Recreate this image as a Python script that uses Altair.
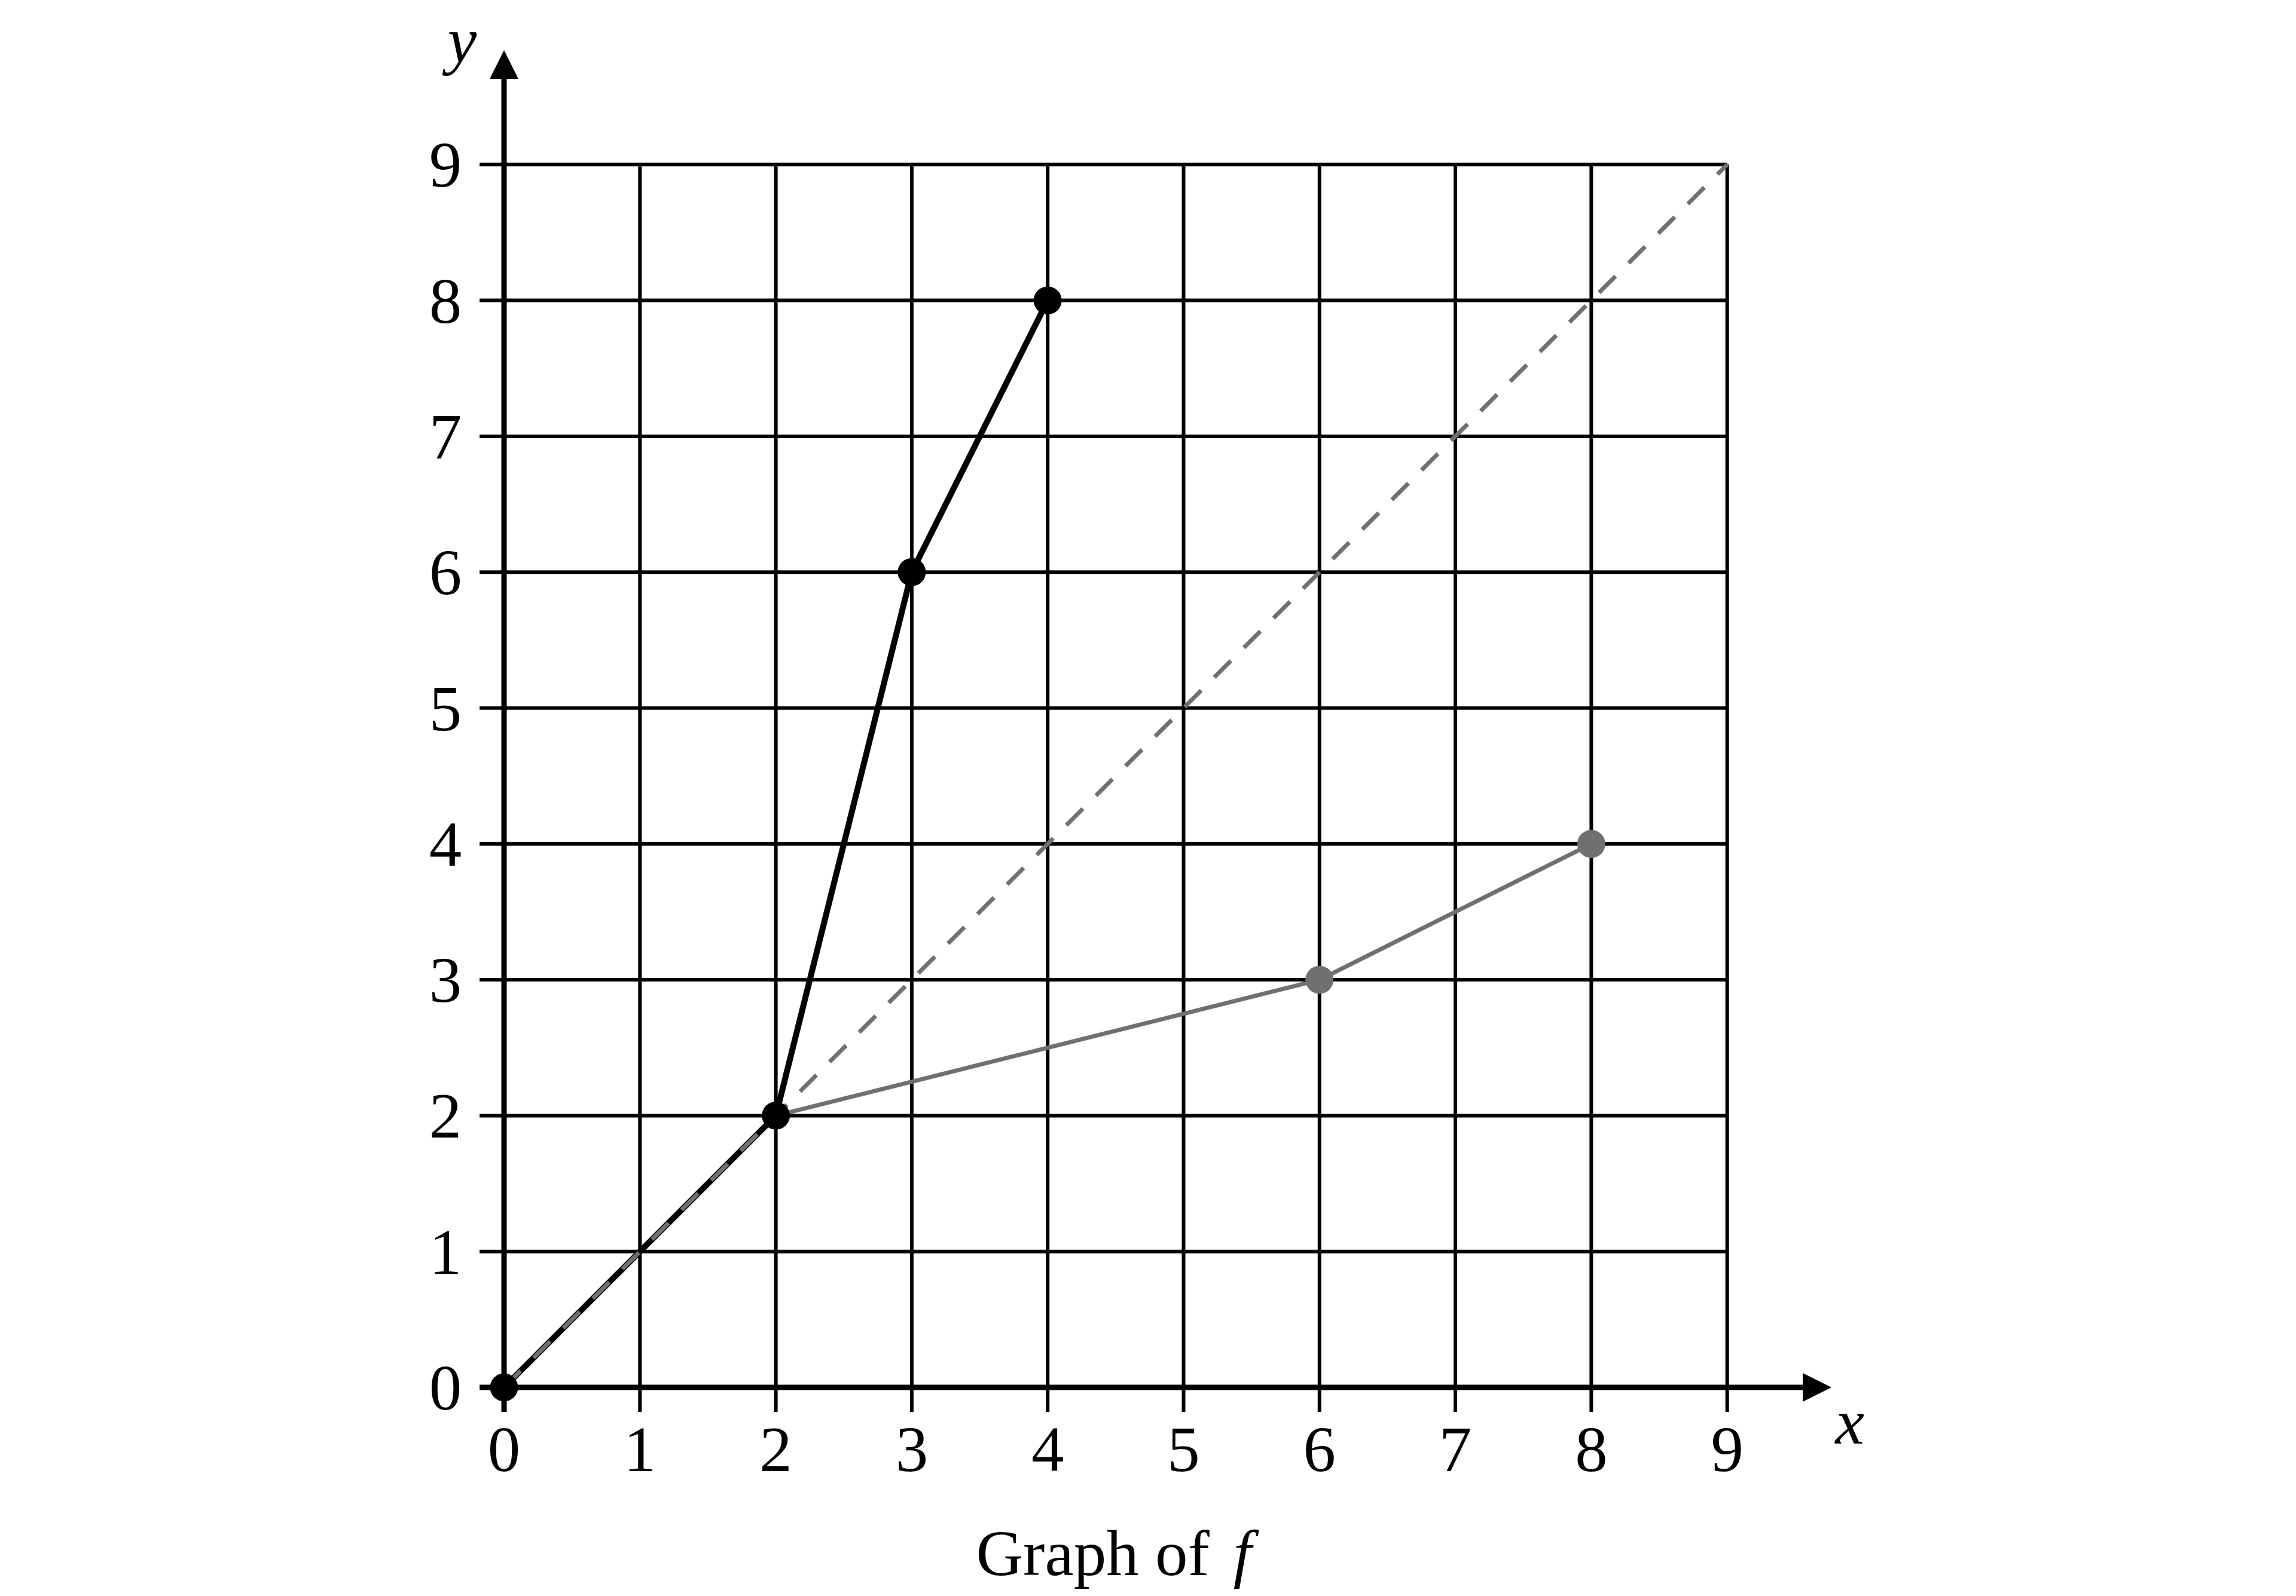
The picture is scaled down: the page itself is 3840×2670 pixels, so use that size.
import altair as alt
import pandas as pd

# ---- data ----
grid_vals = [0, 1, 2, 3, 4, 5, 6, 7, 8, 9]
tick_labels = ["0", "1", "2", "3", "4", "5", "6", "7", "8", "9"]

f_x = [0, 2, 3, 4]
f_y = [0, 2, 6, 8]

g_x = [2, 6, 8]
g_y = [2, 3, 4]

diag_x = [0, 9]
diag_y = [0, 9]

f_pts_x = [0, 2, 3, 4]
f_pts_y = [0, 2, 6, 8]
g_pts_x = [6, 8]
g_pts_y = [3, 4]

title_main = "Graph of"
title_fn = "f"
x_name = "x"
y_name = "y"

# ---- layout (pixels / data units) ----
UNIT = 227.3
W, H = 3824, 2654
ORIGIN_PX = 843 - 8
ORIGIN_PY = 2321 - 8
xs = alt.Scale(domain=[-ORIGIN_PX / UNIT, (W - ORIGIN_PX) / UNIT], nice=False, zero=False)
ys = alt.Scale(domain=[-(H - ORIGIN_PY) / UNIT, ORIGIN_PY / UNIT], nice=False, zero=False)

def X(f="x"):
    return alt.X(f"{f}:Q", scale=xs, axis=None)

def Y(f="y"):
    return alt.Y(f"{f}:Q", scale=ys, axis=None)

FONT = "Liberation Serif"
FS = 109
GRAY = "#707070"
EXT = 0.18      # how far grid lines run past the axes
X_END = 9.556   # x axis line end (arrow base)
Y_END = 9.63    # y axis line end (arrow base)
lo, hi = grid_vals[0], grid_vals[-1]

vgrid = pd.DataFrame({"x": grid_vals[1:], "y": lo - EXT, "y2": hi})
hgrid = pd.DataFrame({"y": grid_vals[1:], "x": lo - EXT, "x2": hi})

vg = alt.Chart(vgrid).mark_rule(color="black", strokeWidth=6).encode(
    x=X(), y=Y(), y2="y2:Q")
hg = alt.Chart(hgrid).mark_rule(color="black", strokeWidth=6).encode(
    y=Y(), x=X(), x2="x2:Q")

xaxis = alt.Chart(pd.DataFrame({"x": [lo - EXT], "x2": [X_END], "y": [lo]})).mark_rule(
    color="black", strokeWidth=9).encode(x=X(), x2="x2:Q", y=Y())
yaxis = alt.Chart(pd.DataFrame({"y": [lo - EXT], "y2": [Y_END], "x": [lo]})).mark_rule(
    color="black", strokeWidth=9).encode(y=Y(), y2="y2:Q", x=X())

ARROW = 48 * 48
arrow_r = alt.Chart(pd.DataFrame({"x": [X_END], "y": [lo]})).mark_point(
    shape="M-1,-1L1,0L-1,1Z", filled=True, color="black", opacity=1, size=ARROW,
    strokeWidth=0, xOffset=24).encode(x=X(), y=Y())
arrow_u = alt.Chart(pd.DataFrame({"x": [lo], "y": [Y_END]})).mark_point(
    shape="M-1,1L0,-1L1,1Z", filled=True, color="black", opacity=1, size=ARROW,
    strokeWidth=0, yOffset=-24).encode(x=X(), y=Y())

f_line = alt.Chart(pd.DataFrame({"x": f_x, "y": f_y, "o": range(len(f_x))})).mark_line(
    color="black", strokeWidth=10).encode(x=X(), y=Y(), order="o:Q")
g_line = alt.Chart(pd.DataFrame({"x": g_x, "y": g_y, "o": range(len(g_x))})).mark_line(
    color=GRAY, strokeWidth=7).encode(x=X(), y=Y(), order="o:Q")
d_line = alt.Chart(pd.DataFrame({"x": diag_x, "y": diag_y})).mark_line(
    color=GRAY, strokeWidth=7, strokeDash=[39, 31]).encode(x=X(), y=Y())

DOT = 2200
f_pts = alt.Chart(pd.DataFrame({"x": f_pts_x, "y": f_pts_y})).mark_circle(
    color="black", opacity=1, size=DOT).encode(x=X(), y=Y())
g_pts = alt.Chart(pd.DataFrame({"x": g_pts_x, "y": g_pts_y})).mark_circle(
    color=GRAY, opacity=1, size=DOT).encode(x=X(), y=Y())

xlab = alt.Chart(pd.DataFrame({"x": grid_vals, "y": lo, "t": tick_labels})).mark_text(
    font=FONT, fontSize=FS, baseline="alphabetic", align="center", color="black",
    dy=140).encode(x=X(), y=Y(), text="t:N")
ylab = alt.Chart(pd.DataFrame({"y": grid_vals, "x": lo, "t": tick_labels})).mark_text(
    font=FONT, fontSize=FS, baseline="alphabetic", align="center", color="black",
    dx=-98, dy=37).encode(x=X(), y=Y(), text="t:N")

xname = alt.Chart(pd.DataFrame({"x": [hi], "y": [lo], "t": [x_name]})).mark_text(
    font=FONT, fontSize=FS, fontStyle="italic", baseline="alphabetic", align="center",
    color="black", dx=205, dy=94).encode(x=X(), y=Y(), text="t:N")
yname = alt.Chart(pd.DataFrame({"x": [lo], "y": [hi], "t": [y_name]})).mark_text(
    font=FONT, fontSize=FS, fontStyle="italic", baseline="alphabetic", align="center",
    color="black", dx=-70, dy=-171).encode(x=X(), y=Y(), text="t:N")

mid = (lo + hi) / 2
title1 = alt.Chart(pd.DataFrame({"x": [mid], "y": [lo], "t": [title_main]})).mark_text(
    font=FONT, fontSize=FS, baseline="alphabetic", align="right", color="black",
    dx=157, dy=314).encode(x=X(), y=Y(), text="t:N")
title2 = alt.Chart(pd.DataFrame({"x": [mid], "y": [lo], "t": [title_fn]})).mark_text(
    font=FONT, fontSize=FS, fontStyle="italic", baseline="alphabetic", align="left",
    color="black", dx=197, dy=314).encode(x=X(), y=Y(), text="t:N")

chart = alt.layer(
    vg, hg, xaxis, yaxis, arrow_r, arrow_u,
    f_line, g_line, d_line, f_pts, g_pts,
    xlab, ylab, xname, yname, title1, title2,
).properties(
    width=W, height=H, padding=0,
    autosize=alt.AutoSizeParams(type="none"),
    background="white",
).configure_view(stroke=None)

chart.save("out.html", embed_options={"renderer": "svg", "actions": False})
